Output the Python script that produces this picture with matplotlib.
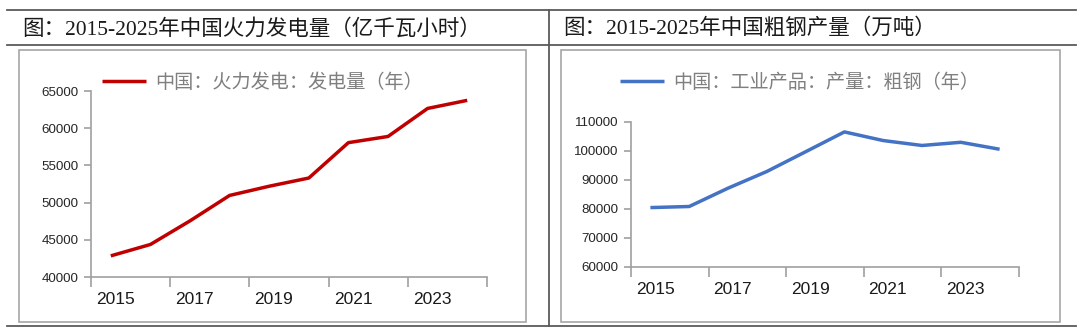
import matplotlib
matplotlib.use("Agg")
import matplotlib.pyplot as plt
from matplotlib.lines import Line2D
from matplotlib.patches import Rectangle

# ---------------- data ----------------
years = [2015, 2016, 2017, 2018, 2019, 2020, 2021, 2022, 2023, 2024]
year_labels = ["2015", "2017", "2019", "2021", "2023"]
thermal_power = [42842, 44371, 47546, 50963, 52201, 53302, 58059, 58888, 62657, 63743]
crude_steel = [80383, 80761, 87074, 92826, 99634, 106477, 103500, 101800, 102900, 100500]

left_title = "图：2015-2025年中国火力发电量（亿千瓦小时）"
right_title = "图：2015-2025年中国粗钢产量（万吨）"
left_legend = "中国：火力发电：发电量（年）"
right_legend = "中国：工业产品：产量：粗钢（年）"
left_yticks = [40000, 45000, 50000, 55000, 60000, 65000]
right_yticks = [60000, 70000, 80000, 90000, 100000, 110000]

W, H = 1080, 335
fig = plt.figure(figsize=(W / 100, H / 100), dpi=100)
fig.patch.set_facecolor("white")

def fx(x):
    return x / W

def fy(y):
    return 1 - y / H

CJK = ["Noto Sans CJK SC", "DejaVu Sans"]
TITLE_FONT = ["Liberation Serif", "Noto Sans CJK SC"]
NUM_FONT = ["Liberation Sans", "DejaVu Sans"]

# ---------------- frame lines ----------------
frame_col = "#5a5a5a"
for y in (10, 45, 325.5):
    fig.add_artist(Line2D([fx(7), fx(1076)], [fy(y), fy(y)], transform=fig.transFigure,
                          color=frame_col, lw=1.3))
fig.add_artist(Line2D([fx(548.5), fx(548.5)], [fy(10), fy(325.5)], transform=fig.transFigure,
                      color=frame_col, lw=1.3))

# inner boxes
box_col = "#a6a6a6"
for x0, x1 in ((18.5, 525.5), (561, 1060)):
    fig.add_artist(Rectangle((fx(x0), fy(322)), fx(x1) - fx(x0), fy(50) - fy(322),
                             transform=fig.transFigure, fill=False, ec=box_col, lw=1.2))

# titles
fig.text(fx(22), fy(29), left_title, family=TITLE_FONT, fontsize=15.5, color="#1a1a1a",
         ha="left", va="center")
fig.text(fx(563), fy(29), right_title, family=TITLE_FONT, fontsize=15.5, color="#1a1a1a",
         ha="left", va="center")

# ---------------- axes ----------------
axis_col = "#a0a0a0"

def setup(ax, values, yticks, color):
    x = list(range(len(years)))
    line, = ax.plot(x, values, color=color, lw=2.5, solid_capstyle="butt", solid_joinstyle="round")
    ax.set_xlim(-0.5, len(years) - 0.5)
    ax.set_ylim(yticks[0], yticks[-1])
    for s in ("top", "right"):
        ax.spines[s].set_visible(False)
    for s in ("left", "bottom"):
        ax.spines[s].set_color(axis_col)
        ax.spines[s].set_linewidth(1.2)
    ax.set_yticks(yticks)
    ax.set_yticklabels([str(v) for v in yticks], family=NUM_FONT, fontsize=9.6, color="#262626")
    ax.tick_params(axis="y", direction="out", length=5, width=1.2, color=axis_col, pad=4)
    ax.set_xticks([i - 0.5 for i in range(0, len(years) + 1, 2)])
    ax.set_xticklabels([])
    ax.set_xticks([i + 0.12 for i in range(0, len(years), 2)], minor=True)
    ax.set_xticklabels(year_labels, minor=True, family=NUM_FONT, fontsize=12.5, color="#1a1a1a")
    ax.tick_params(axis="x", which="major", direction="out", length=7, width=1.2, color=axis_col)
    ax.tick_params(axis="x", which="minor", length=0, pad=11)
    ax.set_facecolor("none")
    return line

ax1 = fig.add_axes([fx(91), fy(277), fx(487) - fx(91), fy(91) - fy(277)])
l1 = setup(ax1, thermal_power, left_yticks, "#C00000")

ax2 = fig.add_axes([fx(631), fy(266.7), fx(1019) - fx(631), fy(121.7) - fy(266.7)])
l2 = setup(ax2, crude_steel, right_yticks, "#4472C4")

for line, label, x0 in ((l1, left_legend, 102), (l2, right_legend, 620)):
    fig.legend([line], [label], loc="center left", bbox_to_anchor=(fx(x0), fy(82.5)),
               frameon=False, borderpad=0, borderaxespad=0, handlelength=2.3,
               handletextpad=0.45, prop={"family": CJK, "size": 13.8}, labelcolor="#7f7f7f")

fig.savefig("out.png", dpi=100, facecolor="white")
